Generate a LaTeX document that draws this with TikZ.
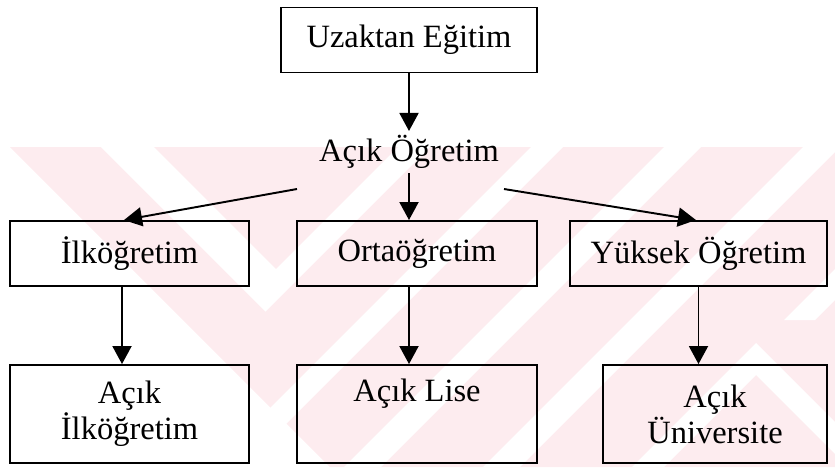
\documentclass[tikz,border=0pt]{standalone}
\usepackage{fontspec}
\setmainfont{Liberation Serif}
\usetikzlibrary{positioning, calc, arrows.meta}

\definecolor{wmpink}{RGB}{253,236,239}

\tikzset{
  yazi/.style={font=\fontsize{18.5}{20.5}\selectfont},
  kutu/.style={yazi, draw, line width=1.1pt, align=center, inner sep=0pt},
  ok/.style={-{Triangle[length=3.6mm,width=3.8mm]}, line width=1.1pt},
}

\begin{document}
\begin{tikzpicture}[x=0.02cm, y=-0.02cm]
  \useasboundingbox (0,0) rectangle (835,467);
  % soluk filigran
  \begin{scope}
    \clip (0,147) rectangle (835,467);
    \fill[wmpink] (10,147) -- (900,147) -- (900,467) -- (330,467) -- cycle;
    \fill[white] (101,147) -- (154,147) -- (276,269) -- (398,147) -- (430,147) -- (265.5,311.5) -- cycle;
    \foreach \a/\w in {678/32, 811/37, 950/37}
      \fill[white] (\a-147,147) -- (\a+\w-147,147) -- (\a+\w-467,467) -- (\a-467,467) -- cycle;
    \fill[white] (957,147) -- (988,147) -- (815,320) -- (784,320) -- cycle;
    \fill[white] (756,343) -- (880,467) -- (848,467) -- (756,375) -- (664,467) -- (632,467) -- cycle;
  \end{scope}

  \node[kutu, minimum width=5.12cm, minimum height=1.3cm] (uzak) at (409,40) {Uzaktan Eğitim};
  \node[yazi, inner sep=0.08cm] (acik) at (409,152) {Açık Öğretim};

  \node[kutu, minimum width=4.78cm, minimum height=1.3cm] (ilk) at (129.5,253.5) {İlköğretim};
  \node[kutu, minimum width=4.8cm, minimum height=1.3cm] (orta) at (417,253.5) {Ortaöğretim};
  \node[kutu, minimum width=5.14cm, minimum height=1.3cm] (yuk) at (698.5,253.5) {Yüksek Öğretim};

  \node[kutu, minimum width=4.78cm, minimum height=1.96cm] (acilk) at (129.5,414) {Açık\\İlköğretim};
  \node[kutu, minimum width=4.8cm, minimum height=1.96cm] (lise) at (417,414) {Açık Lise\\\strut};
  \node[kutu, minimum width=4.48cm, minimum height=1.96cm] (univ) at (715,414) {Açık\\Üniversite};

  \coordinate (sol) at (297,189);
  \coordinate (sag) at (504,189);

  \draw[ok] (uzak) -- (acik);
  \draw[ok] (acik.south) -- (acik.south |- orta.north);
  \draw[ok] (sol) -- ([xshift=-0.11cm]ilk.north);
  \draw[ok] (sag) -- ([xshift=-0.05cm]yuk.north);

  \draw[ok] ([xshift=-0.15cm]ilk.south) -- ([xshift=-0.15cm]acilk.north);
  \draw[ok] (acik.south |- orta.south) -- (acik.south |- lise.north);
  \draw[ok] (yuk.south) -- (yuk.south |- univ.north);
\end{tikzpicture}
\end{document}
